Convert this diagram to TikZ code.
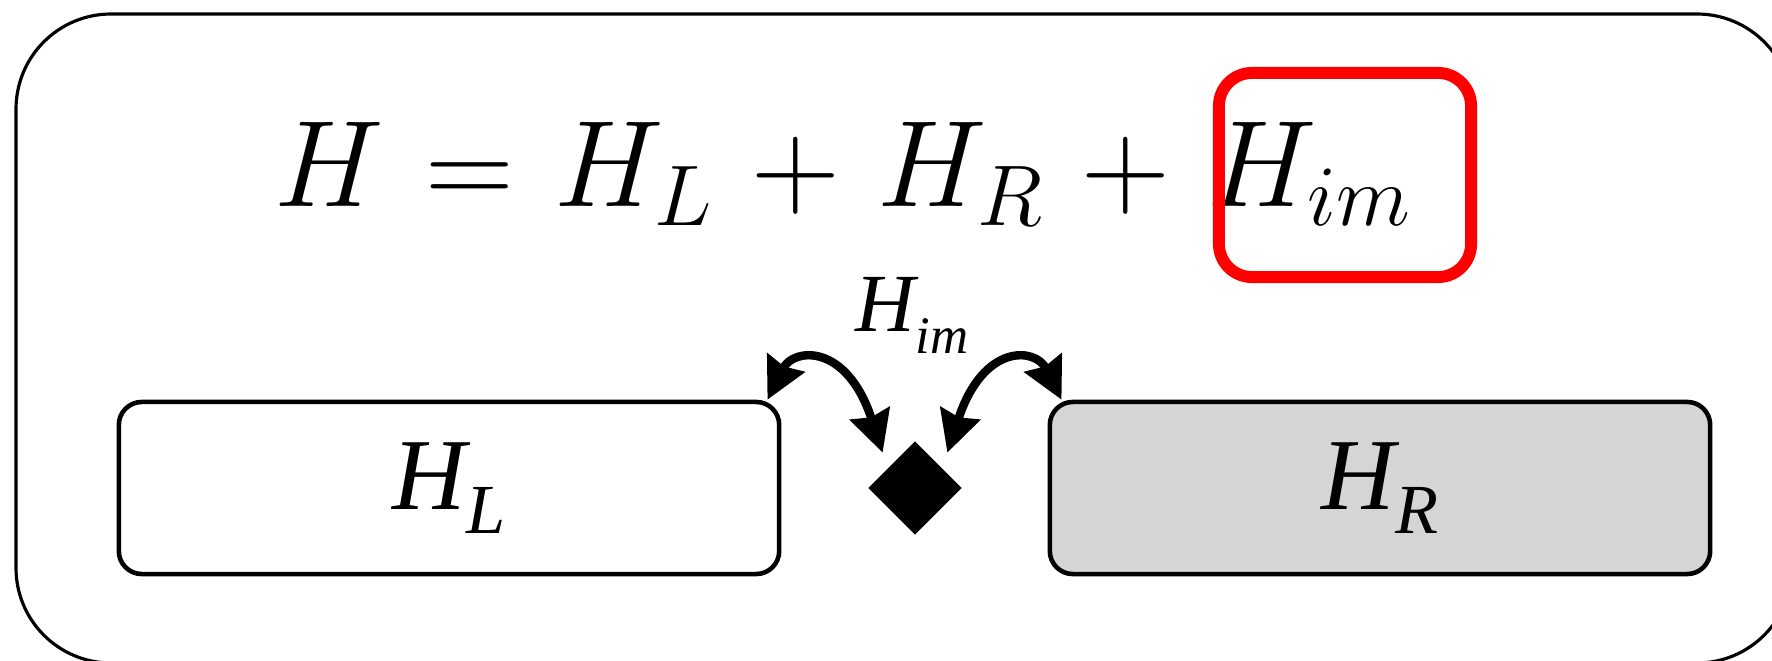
\RequirePackage{fix-cm}
\documentclass[tikz,border=0pt]{standalone}
\usepackage{fontspec}
\newfontfamily\tnr{Liberation Serif}
\usetikzlibrary{shapes.geometric,arrows.meta,calc}
\definecolor{boxgray}{RGB}{213,213,213}
\definecolor{redline}{RGB}{255,0,0}
\begin{document}
\begin{tikzpicture}[x=0.01cm,y=-0.01cm,
  framestyle/.style={draw=black,line width=0.9pt,rounded corners=0.95cm},
  hbox/.style={draw=black,line width=1.3pt,rounded corners=0.23cm,minimum width=6.6cm,minimum height=1.72cm,inner sep=0pt},
  redbox/.style={draw=redline,line width=3.4pt,rounded corners=0.33cm,minimum width=2.52cm,minimum height=2.04cm,inner sep=0pt},
  link/.style={line width=2.4pt,{Stealth[length=0.41cm,width=0.41cm,inset=0.04cm]}-{Stealth[length=0.41cm,width=0.41cm,inset=0.04cm]}},
  eqtext/.style={inner sep=0pt,anchor=base west,font=\fontsize{35}{40}\selectfont},
  lbl/.style={inner sep=0pt,font=\tnr\itshape}
]
\useasboundingbox (0,0) rectangle (1772,661);
\clip (0,0) rectangle (1772,661);
\draw[framestyle] (16,14) rectangle (1792,663);

\node[eqtext] (eq) at (274,207) {$\thickmuskip=6mu\medmuskip=5.5mu H = H_L + H_R + H_{im}$};
\node[redbox] (rb) at (1345,175) {};

\node[hbox] (L) at (449,488) {\tnr\itshape\fontsize{29}{29}\selectfont H\raisebox{-7pt}{\fontsize{20}{20}\selectfont L}};
\node[hbox,fill=boxgray] (R) at (1380,488) {\tnr\itshape\fontsize{29}{29}\selectfont H\raisebox{-7pt}{\fontsize{20}{20}\selectfont R}};

\node[diamond,fill=black,minimum width=0.94cm,minimum height=0.94cm,inner sep=0pt] (D) at (915,488) {};

\node[lbl,anchor=base west] (lab) at (855,332) {\fontsize{23.5}{24}\selectfont H\raisebox{-6pt}{\fontsize{15}{15}\selectfont im}};

\draw[link] ($(L.north east)+(-14,0)$) .. controls +(26,-52) and +(-36,-110) .. ($(D.north west)+(-8.5,-11.5)$);
\draw[link] ($(D.north east)+(8.5,-11.5)$) .. controls +(36,-110) and +(-26,-52) .. ($(R.north west)+(14,0)$);
\end{tikzpicture}
\end{document}
